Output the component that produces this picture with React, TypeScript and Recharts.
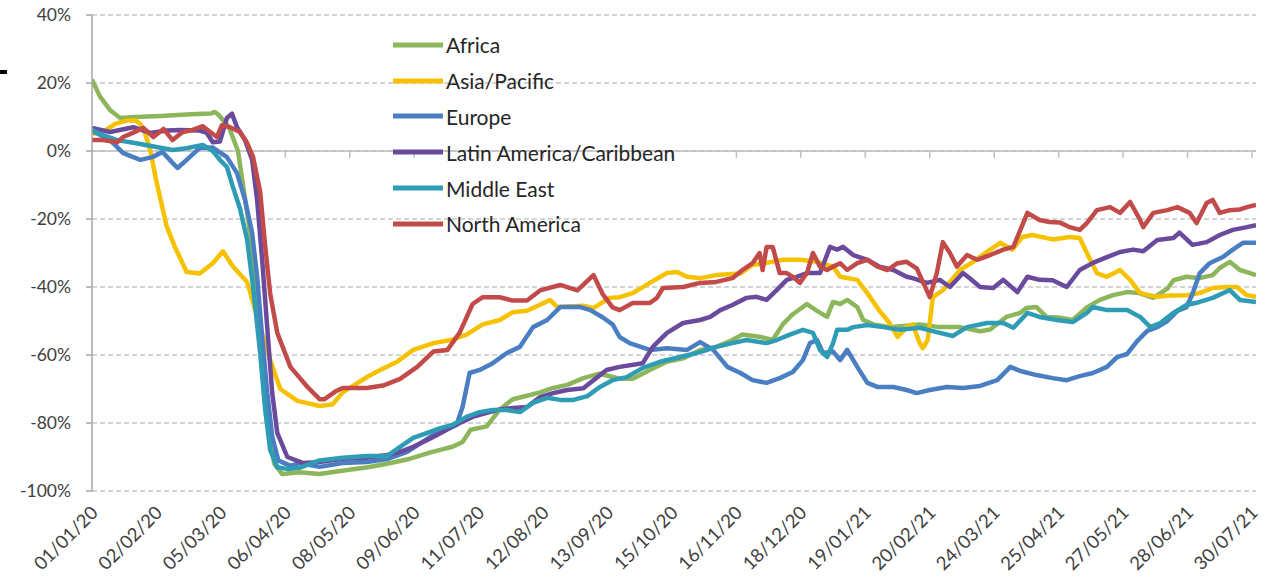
import React from 'react';
import { LineChart, Line, XAxis, YAxis, CartesianGrid, ReferenceLine, Legend } from 'recharts';

// x = days since 01/01/2020, y = % change
const africa: [number, number][] = [
  [0, 21], [4, 16], [9, 12], [14, 9.7], [21, 10], [34, 10.3], [49, 10.8], [59, 11], [61, 11.5], [63, 10.5],
  [68, 7], [72.5, 0], [77.5, -20], [81.5, -40], [86.5, -78], [90.5, -92], [94.5, -95], [103, -94.5], [113, -95],
  [125, -94], [137, -93], [146.5, -92], [158, -90.5], [169, -88.5], [179, -87], [184, -85.6], [188, -82], [196, -81],
  [202.5, -76], [209, -73], [216, -72], [222.5, -71], [229, -69.7], [236, -68.8], [244, -66.8], [252, -65.5],
  [262, -67], [268.5, -67], [277, -64.4], [285.5, -62], [293.5, -61], [302, -58.5], [310, -57.6], [318, -55.6],
  [323, -54], [332, -54.7], [338, -55.6], [343, -51], [348, -48], [355, -45], [360, -47], [365, -48.8], [368, -44.4],
  [371.5, -45], [375, -43.8], [380, -45.9], [383, -49.7], [388, -51], [396, -51.8], [411, -51], [421, -51.8],
  [431, -51.8], [441, -53], [446, -52.5], [454, -48.8], [461, -47.6], [464, -46.2], [469, -45.9], [474, -48.8],
  [480.5, -49], [487, -49.7], [494, -46], [500.5, -43.8], [507, -42.4], [514, -41.5], [520, -41.8], [527, -43.2],
  [534, -40.5], [537, -38], [543.5, -37], [550, -37.4], [556.5, -36.5], [560, -34.4], [565, -32.6], [570, -35],
  [575, -35.9], [578, -36.5],
];

const asiaPacific: [number, number][] = [
  [0, 5], [6.5, 6], [11.5, 8], [17.5, 9], [21.5, 9], [24, 8], [26.5, 5], [29, 0], [32, -9], [37, -22], [41, -28],
  [47, -35.6], [53.5, -36], [60, -33], [65, -29.5], [70, -34], [77, -38.5], [83.5, -51.8], [88.5, -61.5],
  [93.5, -70], [102, -73.5], [113, -75], [119.5, -74.5], [124.5, -71], [136.5, -66.5], [144.5, -64], [151.5, -62],
  [159.5, -58.5], [169.5, -56.5], [178, -55.6], [186, -54], [194, -51], [202.5, -49.7], [209, -47.4], [216, -47],
  [227.5, -43.8], [231, -45.9], [244, -45.5], [249, -46.2], [257, -43.2], [262, -43], [268.5, -41.8], [277, -38.8],
  [285.5, -35.9], [290.5, -35.6], [295.5, -37], [302, -37.4], [310, -36.5], [322, -36], [328, -33.5], [335, -32.9],
  [343, -32], [351.5, -32], [360, -32.6], [368, -34], [371.5, -37], [380, -37.9], [385, -41.8], [391, -47],
  [396, -50.6], [400, -54.7], [404.5, -51.8], [407.5, -51], [411, -56.5], [412.5, -58], [415, -55.6], [417.5, -43],
  [422.5, -41], [431, -35], [437.5, -32.6], [446, -29], [451, -27], [457, -29], [462, -25.3], [467, -24.7],
  [477, -26], [485.5, -25.3], [490.5, -25.6], [494, -30], [499, -35.9], [504, -37], [510.5, -35], [515.5, -37.9],
  [520.5, -41.8], [529, -42.9], [535, -42.5], [543.5, -42.4], [550, -41.8], [556.5, -40.3], [563.5, -40],
  [568.5, -40], [573.5, -42.4], [578, -42.9],
];

const europe: [number, number][] = [
  [0, 6], [9, 3.2], [15.5, -0.6], [24, -2.6], [30, -1.8], [35, -0.3], [40, -3.5], [42.5, -5], [47, -2.6],
  [53.5, 0.9], [60, 1], [67, -1.8], [72, -6.5], [76, -14.4], [79.5, -24], [82, -37], [84.5, -54.7], [87, -71],
  [89.5, -84], [92.5, -91], [98.5, -92.6], [103, -91.8], [113, -92.9], [124.5, -91.8], [136.5, -91.5],
  [146.5, -90.6], [156.5, -88.5], [163, -86], [169.5, -83.5], [176, -82], [181, -80.6], [184, -75.3],
  [187.5, -65.3], [192.5, -64.4], [199, -62.4], [206, -59.4], [212.5, -57.6], [219, -51.8], [226, -49.7],
  [232.5, -45.9], [242.5, -45.9], [247.5, -46.8], [253.5, -48.9], [258.5, -51], [262, -54.7], [267, -56.5],
  [277, -58.5], [285.5, -58], [295.5, -58.5], [302, -56.2], [308.5, -58.5], [315.5, -63.5], [322, -65.3],
  [328, -67.4], [335, -68.2], [341.5, -66.8], [348, -65], [353, -61.5], [356.5, -56.5], [360, -55.6], [363, -59.4],
  [368, -59], [371.5, -61.5], [375, -58.5], [380, -63.5], [385, -68.2], [390, -69.4], [398, -69.4], [404.5, -70.3],
  [409.5, -71.2], [416, -70.3], [424.5, -69.4], [432.5, -69.7], [441, -69.1], [449.5, -67.4], [456, -63.5],
  [461, -64.7], [469, -65.9], [477, -66.8], [484, -67.4], [490.5, -66.2], [497, -65.3], [504, -63.5], [509, -60.6],
  [514, -59.7], [519, -55.9], [524, -52.9], [529, -51.8], [534, -50], [539, -47], [543.5, -45.9], [546.5, -42],
  [550, -36], [555, -33], [561.5, -31.2], [566.5, -29], [571.5, -27], [578, -27],
];

const latinAmerica: [number, number][] = [
  [0, 6.8], [9, 5.6], [20.5, 7], [29, 5.3], [37, 6], [43.5, 6.2], [53.5, 6], [57, 5.3], [60, 2.6], [63.5, 2.8],
  [67, 9.7], [69.5, 11], [72, 7], [76, 3.2], [79.5, -2.6], [82, -14.4], [84.5, -32], [87, -51.8], [89.5, -71.2],
  [92, -82.9], [97, -90], [105, -91.8], [113, -91.5], [124.5, -90.5], [136.5, -90.2], [146.5, -89.4], [153, -88.5],
  [159.5, -87], [166.5, -85], [173, -83], [179, -81], [189, -78.2], [196, -77], [202.5, -76], [209, -75.6],
  [216, -75.3], [222.5, -72.4], [229, -71.2], [236, -70.3], [244, -69.8], [249, -67.4], [255.5, -64.4],
  [262, -63.5], [273.5, -62.4], [278.5, -57.6], [285.5, -53.5], [293.5, -50.6], [302, -49.7], [307, -48.8],
  [312, -46.8], [318, -45.3], [325, -43.2], [330, -42.9], [335, -43.8], [340, -40.9], [345, -37.9], [350, -37],
  [355, -35.9], [361.5, -35.9], [366.5, -28.2], [370, -29], [373, -28.2], [378, -30.6], [385, -32], [391, -34],
  [398, -35], [404.5, -37], [407.5, -37.4], [414.5, -38.8], [421, -37.9], [426, -40], [432.5, -35.9], [436, -37.5],
  [441, -40], [447.5, -40.3], [452.5, -37.9], [459.5, -41.5], [464.5, -37], [470.5, -37.9], [477, -38], [484, -40],
  [490.5, -35], [497, -32.9], [504, -31.2], [510.5, -29.7], [517, -29], [522, -29.5], [529, -26.2], [537, -25.6],
  [540, -24], [546.5, -27.6], [553.5, -26.8], [560, -24.7], [566.5, -23.2], [573.5, -22.4], [578, -21.8],
];

const middleEast: [number, number][] = [
  [0, 6.2], [5.5, 4.7], [12.5, 3.2], [20.5, 2.4], [32, 1.2], [40, 0.3], [47, 0.8], [55, 1.8], [60, 0], [63.5, -2.6],
  [67, -4.7], [70, -10.6], [73.5, -17], [77, -26], [80, -40], [83.5, -59.4], [86, -76], [88.5, -88], [92, -93],
  [97, -93.5], [103, -93.2], [113, -91], [124.5, -90.2], [136.5, -89.7], [146.5, -89.7], [153, -87], [159.5, -84.4],
  [166.5, -82.9], [173, -81.5], [179, -80.6], [186, -78.2], [192.5, -76.8], [199, -76.2], [206, -76.2],
  [212.5, -76.8], [219, -74.1], [226, -72.6], [232.5, -73.2], [239, -73.2], [246, -72.1], [252, -69.5],
  [258.5, -67.4], [265.5, -66.5], [273.5, -63.8], [282, -62], [292, -60.6], [300.5, -59.4], [305.5, -58.5],
  [310, -57.6], [318, -56.5], [325, -55.6], [335, -56.5], [340, -55.6], [346.5, -54], [353, -52.6], [358, -53.5],
  [361.5, -58.5], [365, -60.6], [368, -56.5], [370, -52.6], [375, -52.6], [378, -51.8], [385, -51.2], [393, -51.8],
  [401, -52.6], [411, -52], [421, -53.5], [427.5, -54.4], [434.5, -51.8], [444.5, -50.6], [452.5, -50.6],
  [457.5, -52], [464.5, -47.6], [470.5, -48.8], [479, -49.7], [487, -50.3], [494, -47.6], [497, -45.9],
  [504, -46.8], [514, -46.8], [520.5, -48.8], [525.5, -51.8], [530.5, -50.6], [537, -47.6], [543.5, -45.3],
  [550, -44.4], [556.5, -43.2], [565, -40.9], [570, -43.8], [578, -44.4],
];

const northAmerica: [number, number][] = [
  [0, 3.2], [5.5, 3.2], [12.5, 2.6], [15.5, 4.1], [20.5, 5.4], [25.5, 6.8], [30.5, 4.1], [35.5, 6.5], [40, 3.2],
  [45, 5.6], [50, 6.2], [55, 7.3], [60, 5], [62, 4.1], [64.5, 7.6], [68.5, 7], [73.5, 5.6], [77, 2.4], [80, -1.8],
  [83.5, -12], [86, -28], [88.5, -42], [92, -53.5], [98.5, -63.5], [107, -69.4], [113, -73], [115.5, -73],
  [121.5, -70.5], [124.5, -69.7], [136.5, -69.7], [144.5, -69], [153, -67], [161.5, -63.5], [169.5, -59],
  [176.5, -58.5], [182.5, -53.5], [189, -45], [194, -43], [202.5, -43], [209, -44], [216, -44], [222.5, -41],
  [232.5, -39.4], [241, -41], [249, -36.5], [253.5, -42], [258.5, -46], [262, -46.8], [268.5, -44.7], [277, -44.7],
  [280.5, -43.2], [283.5, -40.3], [293.5, -40], [302, -38.8], [310, -38.5], [318, -37.4], [323, -35], [328, -33],
  [331.5, -30], [333, -35], [335, -28.2], [338, -28.2], [341.5, -35.9], [345, -35.9], [348, -37], [351.5, -38.8],
  [355, -35.9], [358, -30], [361.5, -34], [365, -35], [368, -34], [371.5, -33], [375, -35], [380, -33], [385, -32],
  [390, -34], [395, -35], [400, -33], [404.5, -32.6], [409.5, -34.5], [414.5, -41], [416, -43], [419.5, -35.9],
  [422.5, -26.8], [426, -30], [429.5, -34], [434.5, -30.6], [439.5, -32], [446, -30.6], [452.5, -29], [457.5, -28.2],
  [461, -23.2], [464.5, -18.2], [470.5, -20.3], [475.5, -20.9], [480.5, -21], [485.5, -22.4], [490.5, -23.2],
  [494, -21.2], [499, -17.4], [505.5, -16.5], [510.5, -18.2], [515.5, -15], [520.5, -20.3], [522, -22.4],
  [527, -18.2], [534, -17.4], [539, -16.5], [545, -18.2], [548.5, -21.2], [553.5, -15.3], [556.5, -14.4],
  [560, -18.2], [565, -17.4], [570, -17.2], [573.5, -16.5], [578, -15.9],
];

const seriesNames = ['Africa', 'Asia/Pacific', 'Europe', 'Latin America/Caribbean', 'Middle East', 'North America'];
const seriesColors = ['#8DB65A', '#F5C100', '#4A7EC2', '#6A4A9C', '#2F9CB6', '#C24B4A'];
const seriesPoints = [africa, asiaPacific, europe, latinAmerica, middleEast, northAmerica];

const xTicks = [0, 32, 64, 96, 128, 160, 192, 224, 256, 288, 320, 352, 384, 416, 448, 480, 512, 544, 576];
const yTicks = [-100, -80, -60, -40, -20, 0, 20, 40];

const START = Date.UTC(2020, 0, 1);
const fmtDate = (d: number) => {
  const dt = new Date(START + Math.round(d) * 86400000);
  const dd = String(dt.getUTCDate()).padStart(2, '0');
  const mm = String(dt.getUTCMonth() + 1).padStart(2, '0');
  const yy = String(dt.getUTCFullYear() % 100).padStart(2, '0');
  return `${dd}/${mm}/${yy}`;
};

const FONT = 'Lato, "Open Sans", sans-serif';

const XTick = (props: any) => {
  const { x, y, payload } = props;
  const ax = x + 7;
  const ay = y + 1;
  return (
    <text
      x={ax}
      y={ay}
      transform={`rotate(-45 ${ax} ${ay})`}
      textAnchor="end"
      fontSize={18.5}
      fontFamily={FONT}
      fill="#404040"
    >
      {fmtDate(payload.value)}
    </text>
  );
};

const LegendContent = (props: any) => {
  const payload = props.payload || [];
  return (
    <div style={{ fontFamily: FONT, fontSize: 21, color: '#262626' }}>
      {payload.map((p: any) => (
        <div key={p.value} style={{ display: 'flex', alignItems: 'center', height: 35.8 }}>
          <svg width={50} height={8} style={{ display: 'block' }}>
            <line x1={0} y1={4} x2={50} y2={4} stroke={p.color} strokeWidth={5} />
          </svg>
          <span style={{ marginLeft: 3, whiteSpace: 'nowrap' }}>{p.value}</span>
        </div>
      ))}
    </div>
  );
};

export default function App() {
  return (
    <div style={{ position: 'absolute', left: 0, top: 0, width: 1270, height: 584, background: '#fff' }}>
      <div style={{ position: 'absolute', left: 0, top: 70, width: 7, height: 4, background: '#000' }} />
      <LineChart width={1270} height={584} margin={{ top: 15, right: 14, left: 32, bottom: 33 }}>
        <CartesianGrid vertical={false} stroke="#c8c8c8" strokeDasharray="5 3" strokeWidth={1.3} />
        <XAxis
          type="number"
          dataKey="d"
          domain={[0, 578]}
          ticks={xTicks}
          interval={0}
          axisLine={false}
          tickLine={false}
          tickSize={0}
          tickMargin={22}
          height={60}
          tick={<XTick />}
          allowDataOverflow
        />
        <YAxis
          type="number"
          domain={[-100, 40]}
          ticks={yTicks}
          interval={0}
          width={60}
          axisLine={{ stroke: '#a6a6a6', strokeWidth: 1.5 }}
          tickLine={{ stroke: '#a6a6a6', strokeWidth: 1.5 }}
          tickSize={6}
          tickMargin={15}
          tickFormatter={(v: number) => `${v}%`}
          tick={{ fontSize: 17.5, fontFamily: FONT, fill: '#404040' }}
          allowDataOverflow
        />
        <ReferenceLine y={0} stroke="#bfbfbf" strokeWidth={1.5} />
        {xTicks.slice(1).map((t) => (
          <ReferenceLine
            key={t}
            segment={[{ x: t, y: 0 }, { x: t, y: -2 }]}
            stroke="#bfbfbf"
            strokeWidth={1.5}
          />
        ))}
        {seriesNames.map((name, i) => (
          <Line
            key={name}
            name={name}
            data={seriesPoints[i].map(([d, v]) => ({ d, v }))}
            dataKey="v"
            type="linear"
            stroke={seriesColors[i]}
            strokeWidth={4.5}
            strokeLinejoin="round"
            dot={false}
            activeDot={false}
            isAnimationActive={false}
          />
        ))}
        <Legend
          layout="vertical"
          align="center"
          verticalAlign="middle"
          content={<LegendContent />}
          wrapperStyle={{ left: 393, top: 27, width: 330 }}
        />
      </LineChart>
    </div>
  );
}
